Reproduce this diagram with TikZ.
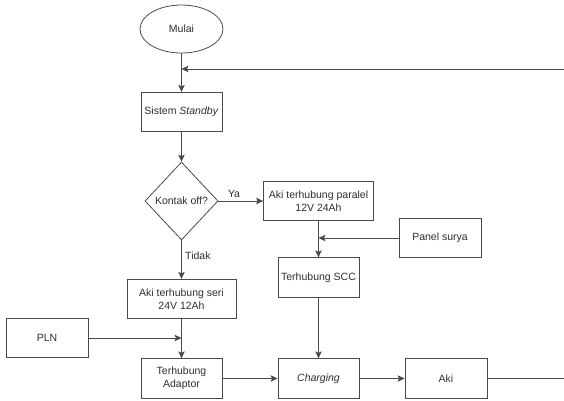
\documentclass[tikz,border=0pt]{standalone}
\usepackage{fontspec}
\setmainfont{Liberation Sans}
\usetikzlibrary{shapes.geometric,arrows.meta}

\definecolor{ink}{HTML}{2E2E2E}
\definecolor{wire}{HTML}{4A4A4A}

\begin{document}
\begin{tikzpicture}[x=1pt,y=-1pt,font=\fontsize{10.5}{12.5}\selectfont, text=ink]
  \useasboundingbox (0,0) rectangle (564,400);
  \tikzset{proc/.style={draw=wire,line width=.8pt,minimum width=81pt,minimum height=39.5pt,align=center,inner sep=2pt},
           flow/.style={draw=wire,line width=.8pt,-{Stealth[length=7pt,width=6.5pt,inset=1.5pt]}}}

  % Start, standby and the key check.
  \node[ellipse,draw=wire,line width=.8pt,minimum width=83pt,minimum height=48pt] (mulai) at (181.5,29) {Mulai};
  \node[proc] (standby) at (181.5,112) {Sistem \textit{Standby}};
  \node[diamond,draw=wire,line width=.8pt,minimum width=73pt,minimum height=78pt,inner sep=0pt] (kontak) at (181.5,201) {Kontak off?};

  % Ya branch: parallel batteries charged from the solar panel.
  \node[proc,minimum width=110pt] (paralel) at (318.5,201) {Aki terhubung paralel\\12V 24Ah};
  \node[proc,minimum width=82pt] (panel) at (440,238) {Panel surya};
  \node[proc] (scc) at (318.5,277.5) {Terhubung SCC};

  % Tidak branch: series batteries charged from the grid.
  \node[proc,minimum width=109pt] (seri) at (181.5,299) {Aki terhubung seri\\24V 12Ah};
  \node[proc,minimum width=82pt] (pln) at (47,338) {PLN};
  \node[proc] (adaptor) at (181.5,378.5) {Terhubung\\Adaptor};

  % Both branches end in charging the battery.
  \node[proc] (charging) at (318.5,378.5) {\textit{Charging}};
  \node[proc,minimum width=82pt] (aki) at (446,378.5) {Aki};

  % Junctions and the loop back that runs off the right edge.
  \coordinate (balik) at (564,69);
  \coordinate (masuk) at (181.5,69);
  \coordinate (surya) at (318.5,238);
  \coordinate (listrik) at (181.5,338);
  \coordinate (ujung) at (564,378.5);

  \draw[flow] (mulai) -- (standby);
  \draw[flow] (balik) -- (masuk);
  \draw[flow] (standby) -- (kontak);
  \draw[flow] (kontak) -- node[pos=.35,above] {Ya} (paralel);
  \draw[flow] (kontak) -- node[pos=.4,right] {Tidak} (seri);
  \draw[flow] (paralel) -- (scc);
  \draw[flow] (panel) -- (surya);
  \draw[flow] (scc) -- (charging);
  \draw[flow] (seri) -- (adaptor);
  \draw[flow] (pln) -- (listrik);
  \draw[flow] (adaptor) -- (charging);
  \draw[flow] (charging) -- (aki);
  \draw[wire,line width=.8pt] (aki) -- (ujung);
\end{tikzpicture}
\end{document}
